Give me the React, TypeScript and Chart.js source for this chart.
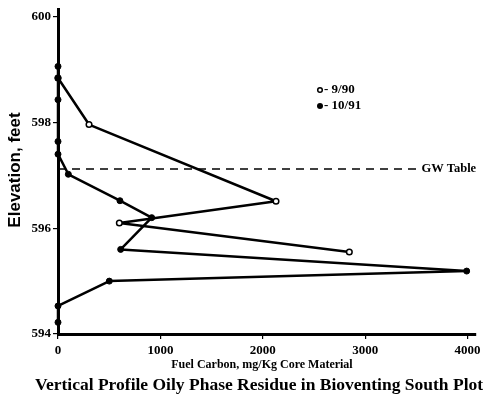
import React, { useEffect, useRef } from "react";
import { Chart, registerables } from "chart.js";

Chart.register(...registerables);

// ---- data ----
const fuel9090X = [0, 303, 2129, 599, 2845];
const elev9090Y = [598.84, 597.96, 596.51, 596.1, 595.55];

const fuel1091X = [0, 0, 0, 0, 0, 101, 605, 915, 612, 3991, 501, 0, 0];
const elev1091Y = [599.06, 598.84, 598.43, 597.64, 597.4, 597.02, 596.52, 596.2, 595.6, 595.19, 595.0, 594.53, 594.22];

const gwTableX = [0, 3500];
const gwTableY = [597.12, 597.12];

const xTicks = [0, 1000, 2000, 3000, 4000];
const yTicks = [594, 596, 598, 600];

const titleText = "Vertical Profile Oily Phase Residue in Bioventing South Plot";
const xTitleText = "Fuel Carbon, mg/Kg Core Material";
const yTitleText = "Elevation, feet";
const legendLabels = ["9/90", "10/91"];
const gwLabel = "GW Table";

const SERIF = "'Liberation Serif', 'Times New Roman', serif";
const SANS = "'Liberation Sans', Arial, sans-serif";

const toPts = (xs: number[], ys: number[]) => xs.map((x, i) => ({ x, y: ys[i] }));

const textPlugin = {
  id: "customText",
  afterDraw(chart: any) {
    const ctx = chart.ctx as CanvasRenderingContext2D;
    const xs = chart.scales.x;
    const ys = chart.scales.y;
    ctx.save();
    ctx.fillStyle = "#000";
    ctx.strokeStyle = "#000";

    // main title
    ctx.font = `bold 17.5px ${SERIF}`;
    ctx.textAlign = "center";
    ctx.textBaseline = "alphabetic";
    ctx.fillText(titleText, 259, 390);

    // x title
    ctx.font = `bold 12px ${SERIF}`;
    ctx.fillText(xTitleText, 262, 368);

    // y title
    ctx.save();
    ctx.translate(15, 170);
    ctx.rotate(-Math.PI / 2);
    ctx.font = `bold 17px ${SANS}`;
    ctx.textAlign = "center";
    ctx.textBaseline = "middle";
    ctx.fillText(yTitleText, 0, 0);
    ctx.restore();

    // legend
    ctx.font = `bold 13px ${SERIF}`;
    ctx.textAlign = "left";
    ctx.textBaseline = "middle";
    ctx.lineWidth = 1.5;
    ctx.beginPath();
    ctx.arc(320, 90, 2.3, 0, Math.PI * 2);
    ctx.fillStyle = "#fff";
    ctx.fill();
    ctx.stroke();
    ctx.fillStyle = "#000";
    ctx.fillText("- " + legendLabels[0], 324, 90);
    ctx.beginPath();
    ctx.arc(320, 106, 3, 0, Math.PI * 2);
    ctx.fill();
    ctx.fillText("- " + legendLabels[1], 324, 106);

    // GW label
    const gx = xs.getPixelForValue(gwTableX[1]);
    const gy = ys.getPixelForValue(gwTableY[1]);
    ctx.font = `bold 12.5px ${SERIF}`;
    ctx.fillText(gwLabel, gx + 5, gy);
    ctx.restore();
  },
};

export default function App() {
  const ref = useRef<HTMLCanvasElement | null>(null);

  useEffect(() => {
    if (!ref.current) return;
    const chart = new Chart(ref.current, {
      type: "scatter",
      data: {
        datasets: [
          {
            label: legendLabels[1],
            data: toPts(fuel1091X, elev1091Y),
            showLine: true,
            borderColor: "#000",
            borderWidth: 2.5,
            borderJoinStyle: "round",
            pointRadius: 3,
            pointBackgroundColor: "#000",
            pointBorderColor: "#000",
            pointBorderWidth: 1,
            clip: false,
          } as any,
          {
            label: legendLabels[0],
            data: toPts(fuel9090X, elev9090Y),
            showLine: true,
            borderColor: "#000",
            borderWidth: 2.5,
            borderJoinStyle: "round",
            pointRadius: 2.8,
            pointBackgroundColor: "#fff",
            pointBorderColor: "#000",
            pointBorderWidth: 1.5,
            clip: false,
          } as any,
          {
            label: gwLabel,
            data: toPts(gwTableX, gwTableY),
            showLine: true,
            borderColor: "#000",
            borderWidth: 1.5,
            borderDash: [8, 6],
            pointRadius: 0,
            clip: false,
          } as any,
        ],
      },
      options: {
        animation: false,
        responsive: false,
        maintainAspectRatio: false,
        layout: { padding: { top: 8, right: 18, left: 0, bottom: 0 } },
        plugins: {
          legend: { display: false },
          tooltip: { enabled: false },
          title: { display: false },
        },
        scales: {
          x: {
            type: "linear",
            min: 0,
            max: 4082,
            afterFit: (s: any) => {
              s.height = 66;
            },
            afterBuildTicks: (s: any) => {
              s.ticks = xTicks.map((v) => ({ value: v }));
            },
            border: { display: true, color: "#000", width: 3 },
            grid: { drawOnChartArea: false, drawTicks: true, tickLength: 5, color: "#000", lineWidth: 1.2 },
            ticks: {
              color: "#000",
              padding: 4,
              maxRotation: 0,
              callback: (v: any) => String(v),
              font: { family: SERIF, weight: "bold", size: 13 },
            },
          },
          y: {
            type: "linear",
            min: 594,
            max: 600.13,
            afterFit: (s: any) => {
              s.width = 58;
            },
            afterBuildTicks: (s: any) => {
              s.ticks = yTicks.map((v) => ({ value: v }));
            },
            border: { display: true, color: "#000", width: 3 },
            grid: { drawOnChartArea: false, drawTicks: true, tickLength: 5, color: "#000", lineWidth: 1.2 },
            ticks: {
              color: "#000",
              padding: 2,
              callback: (v: any) => String(v),
              font: { family: SERIF, weight: "bold", size: 13 },
            },
          },
        },
      } as any,
      plugins: [textPlugin],
    });
    return () => chart.destroy();
  }, []);

  return (
    <div style={{ position: "absolute", left: 0, top: 0, width: 494, height: 400, background: "#fff" }}>
      <canvas ref={ref} width={494} height={400} style={{ display: "block" }} />
    </div>
  );
}
